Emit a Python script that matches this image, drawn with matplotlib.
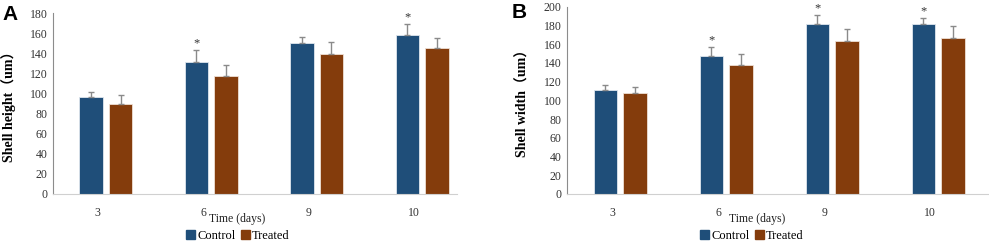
import numpy as np
import matplotlib
matplotlib.use('Agg')
import matplotlib.pyplot as plt
from matplotlib.patches import Patch

# data
days = ['3', '6', '9', '10']
height_control = [96, 131, 150, 158]
height_control_sd = [5, 12, 6, 11]
height_treated = [90, 117, 139, 145]
height_treated_sd = [8, 11, 12, 10]
height_sig = [False, True, False, True]

width_control = [111, 147, 181, 181]
width_control_sd = [5, 10, 10, 7]
width_treated = [108, 138, 163, 167]
width_treated_sd = [6, 11, 13, 12]
width_sig = [False, True, True, True]

blue = '#1f4e79'
brown = '#843c0c'
serif = ['Liberation Serif', 'Noto Sans CJK SC']

fig = plt.figure(figsize=(9.89, 2.44), dpi=100)
W, H = 989, 244


def panel(box, ctrl, ctrl_sd, trt, trt_sd, sig, ymax, ylabel, xright):
    ax = fig.add_axes(box)
    x = np.arange(len(days))
    bw = 0.22
    off = 0.14
    ax.bar(x - off, ctrl, bw, color=blue, edgecolor='#dfe6ee', linewidth=0.6, zorder=2)
    ax.bar(x + off, trt, bw, color=brown, edgecolor='#eedfd5', linewidth=0.6, zorder=2)
    ax.errorbar(x - off, ctrl, yerr=[np.zeros(4), ctrl_sd], fmt='none',
                ecolor='#8a8a8a', elinewidth=1, capsize=2.5, capthick=1, zorder=3)
    ax.errorbar(x + off, trt, yerr=[np.zeros(4), trt_sd], fmt='none',
                ecolor='#8a8a8a', elinewidth=1, capsize=2.5, capthick=1, zorder=3)
    for i in range(len(days)):
        if sig[i]:
            ax.annotate('*', (x[i] - off, ctrl[i] + ctrl_sd[i]), xytext=(0, 0.5),
                        textcoords='offset points', ha='center', va='bottom',
                        fontsize=9, family=serif, color='#333333')
    ax.set_xlim(-0.5, xright)
    ax.set_ylim(0, ymax)
    ax.set_yticks(np.arange(0, ymax + 1, 20))
    ax.set_xticks(x - 0.075)
    ax.set_xticklabels(days)
    for lab in ax.get_xticklabels() + ax.get_yticklabels():
        lab.set_family(serif)
        lab.set_fontsize(8.5)
        lab.set_color('#333333')
    ax.tick_params(length=0, pad=4)
    ax.tick_params(axis='x', pad=9)
    ax.spines['top'].set_visible(False)
    ax.spines['right'].set_visible(False)
    ax.spines['left'].set_color('#8c8c8c')
    ax.spines['bottom'].set_color('#d0d0d0')
    ax.set_ylabel(ylabel, family=serif, fontweight='bold', fontsize=10, labelpad=10)
    return ax


axA = panel([53 / W, 1 - 194 / H, 404 / W, 181 / H],
            height_control, height_control_sd, height_treated, height_treated_sd,
            height_sig, 180, 'Shell height（um）', 3.33)
axB = panel([567 / W, 1 - 194 / H, 421 / W, 187.3 / H],
            width_control, width_control_sd, width_treated, width_treated_sd,
            width_sig, 200, 'Shell width（um）', 3.47)

fig.text(10 / W, 1 - 14 / H, 'A', family='Liberation Sans', fontweight='bold',
         fontsize=15, ha='center', va='center')
fig.text(519 / W, 1 - 12 / H, 'B', family='Liberation Sans', fontweight='bold',
         fontsize=15, ha='center', va='center')

handles = [Patch(color=blue, label='Control'), Patch(color=brown, label='Treated')]
for tx, lx in [(237, 238), (757, 752)]:
    fig.text(tx / W, 1 - 219 / H, 'Time (days)', family=serif, fontsize=8.5,
             ha='center', va='center', color='#222222')
    fig.legend(handles=handles, loc='center', bbox_to_anchor=(lx / W, 1 - 236 / H),
               ncol=2, frameon=False, handlelength=0.7, handleheight=0.7,
               handletextpad=0.2, columnspacing=0.4, borderpad=0,
               prop={'family': serif, 'size': 9})

fig.savefig('out.png', dpi=100)
